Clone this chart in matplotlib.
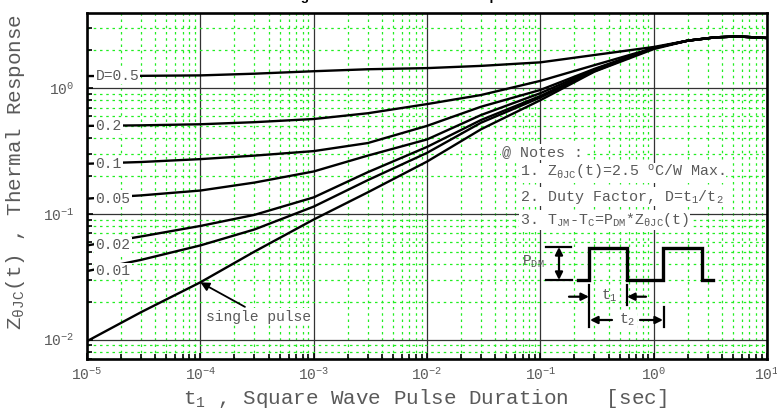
import numpy as np
import matplotlib
matplotlib.use("Agg")
import matplotlib.pyplot as plt
from matplotlib.ticker import LogLocator, LogFormatterMathtext, NullFormatter
import matplotlib.transforms as mtransforms

plt.rcParams['font.family'] = ['Liberation Mono', 'DejaVu Sans']
plt.rcParams['axes.unicode_minus'] = False

# pulse duration [sec]
t = [1e-5, 3e-5, 1e-4, 3e-4, 1e-3, 3e-3, 1e-2, 3e-2, 1e-1, 3e-1, 1, 2, 3.5, 5.5, 10]

# Z_thetaJC(t)
z_d050 = [1.245, 1.25, 1.26, 1.30, 1.36, 1.41, 1.44, 1.50, 1.60, 1.83, 2.12, 2.38, 2.53, 2.57, 2.50]
z_d020 = [0.50, 0.505, 0.515, 0.535, 0.567, 0.63, 0.745, 0.88, 1.14, 1.52, 2.08, 2.38, 2.53, 2.57, 2.50]
z_d010 = [0.25, 0.258, 0.272, 0.29, 0.315, 0.365, 0.50, 0.71, 0.965, 1.42, 2.08, 2.38, 2.53, 2.57, 2.50]
z_d005 = [0.132, 0.14, 0.153, 0.177, 0.217, 0.29, 0.39, 0.61, 0.91, 1.40, 2.08, 2.38, 2.53, 2.57, 2.50]
z_d002 = [0.056, 0.066, 0.08, 0.098, 0.135, 0.214, 0.34, 0.557, 0.864, 1.38, 2.08, 2.38, 2.53, 2.57, 2.50]
z_d001 = [0.035, 0.043, 0.056, 0.075, 0.114, 0.185, 0.305, 0.53, 0.84, 1.36, 2.08, 2.38, 2.53, 2.57, 2.50]
z_single = [0.0097, 0.0165, 0.0285, 0.05, 0.09, 0.148, 0.26, 0.47, 0.80, 1.35, 2.04, 2.38, 2.53, 2.57, 2.50]

curves = [z_d050, z_d020, z_d010, z_d005, z_d002, z_d001, z_single]
labels = ["D=0.5", "0.2", "0.1", "0.05", "0.02", "0.01"]

xticks = [1e-5, 1e-4, 1e-3, 1e-2, 1e-1, 1, 10]
yticks = [1e-2, 1e-1, 1]

gray = '#5a5a5a'

W, H = 777, 412
fig = plt.figure(figsize=(W / 100, H / 100), dpi=100)
L, R, T, B = 87, 767, 13, 359
ax = fig.add_axes([L / W, 1 - B / H, (R - L) / W, (B - T) / H])


def px(x, y):
    # pixel position -> axes fraction
    return ((x - L) / (R - L), (B - y) / (B - T))


for z in curves:
    ax.plot(t, z, color='black', lw=1.7, solid_capstyle='butt', zorder=2)

ax.set_xscale('log')
ax.set_yscale('log')
ax.set_xlim(1e-5, 10)
ax.set_ylim(0.007, 3.95)

ax.set_xticks(xticks)
ax.set_yticks(yticks)
ax.xaxis.set_major_formatter(LogFormatterMathtext())
ax.yaxis.set_major_formatter(LogFormatterMathtext())
ax.xaxis.set_minor_locator(LogLocator(base=10, subs=np.arange(2, 10)))
ax.yaxis.set_minor_locator(LogLocator(base=10, subs=np.arange(2, 10)))
ax.xaxis.set_minor_formatter(NullFormatter())
ax.yaxis.set_minor_formatter(NullFormatter())

ax.grid(which='major', color='#333333', lw=0.9, ls='-')
ax.grid(which='minor', color='#22ee22', lw=0.9, ls=(0, (2, 3)))

ax.tick_params(which='both', direction='in', top=False, right=False,
               width=1.2, colors='black', labelcolor=gray, labelsize=10.5)
ax.tick_params(which='major', length=4)
ax.tick_params(which='minor', length=3.5)
ax.tick_params(axis='y', pad=9)
ax.tick_params(axis='x', pad=5)
for s in ax.spines.values():
    s.set_linewidth(1.9)

ax.set_xlabel(r"t$_\mathregular{1}$ , Square Wave Pulse Duration   [sec]", fontsize=15, color=gray)
ax.xaxis.set_label_coords(0.497, -0.082)
ax.set_ylabel(r"Z$_\mathregular{\theta JC}$(t) , Thermal Response", fontsize=15, color=gray)
ax.yaxis.set_label_coords(-0.088, 0.54)

# D labels sitting on the curve starts
blend = mtransforms.blended_transform_factory(ax.transAxes, ax.transData)
for lab, z in zip(labels, curves):
    ax.text(0.0125, z[0], lab, transform=blend, ha='left', va='center',
            fontsize=10.5, color=gray, zorder=4,
            bbox=dict(boxstyle='square,pad=0.08', fc='white', ec='none'))

ax.annotate("single pulse", xy=(t[2], z_single[2]), xytext=(1.12e-4, 0.0152),
            fontsize=10.5, color=gray, ha='left', va='center', zorder=4,
            bbox=dict(boxstyle='square,pad=0.1', fc='white', ec='none'),
            arrowprops=dict(arrowstyle='-|>', color='black', lw=1.3,
                            mutation_scale=13, relpos=(0.42, 1.0),
                            shrinkA=2, shrinkB=0))

# notes
nb = dict(boxstyle='square,pad=0.05', fc='white', ec='none')
notes = [
    (502, 152, "@ Notes :"),
    (520, 173, r"1. Z$_\mathregular{\theta JC}$(t)=2.5 $\mathregular{^o}$C/W Max."),
    (520, 196.7, r"2. Duty Factor, D=t$_\mathregular{1}$/t$_\mathregular{2}$"),
    (520, 220, r"3. T$_\mathregular{JM}$-T$_\mathregular{C}$=P$_\mathregular{DM}$*Z$_\mathregular{\theta JC}$(t)"),
]
for x0, y0, s in notes:
    ax.text(*px(x0, y0), s, transform=ax.transAxes, ha='left', va='center',
            fontsize=10.8, color=gray, zorder=4, bbox=nb)

# square wave sketch
wave_x = [578, 589, 589, 627, 627, 663, 663, 702, 702, 713]
wave_y = [280, 280, 247.5, 247.5, 280, 280, 247.5, 247.5, 280, 280]
wx, wy = zip(*[px(a, b) for a, b in zip(wave_x, wave_y)])
ax.plot(wx, wy, color='black', lw=2.4, transform=ax.transAxes, zorder=5,
        solid_joinstyle='miter')


def seg(x0, y0, x1, y1, lw=1.6):
    a, b = px(x0, y0)
    c, d = px(x1, y1)
    ax.plot([a, c], [b, d], color='black', lw=lw, transform=ax.transAxes, zorder=5)


def arrow(x0, y0, x1, y1, style='-|>'):
    ax.annotate('', xy=px(x1, y1), xytext=px(x0, y0), xycoords='axes fraction',
                textcoords='axes fraction', zorder=5,
                arrowprops=dict(arrowstyle=style, color='black', lw=1.6,
                                mutation_scale=11, shrinkA=0, shrinkB=0))


seg(545.7, 246.7, 570.7, 246.7)
seg(545.7, 280, 571.7, 280)
arrow(559, 247, 559, 280, style='<|-|>')
seg(589.3, 285, 589.3, 327)
seg(626.7, 285, 626.7, 305)
seg(664.3, 306.7, 664.3, 326.7)
arrow(569, 296.7, 589, 296.7)
arrow(646, 296.7, 627, 296.7)
arrow(612, 320, 590, 320)
arrow(640, 320, 663, 320)

ax.text(*px(522, 262), r"P$_\mathregular{DM}$", transform=ax.transAxes, ha='left',
        va='center', fontsize=10.5, color=gray, zorder=5)
ax.text(*px(601, 296), r"t$_\mathregular{1}$", transform=ax.transAxes, ha='left',
        va='center', fontsize=10.5, color=gray, zorder=5)
ax.text(*px(619, 320), r"t$_\mathregular{2}$", transform=ax.transAxes, ha='left',
        va='center', fontsize=10.5, color=gray, zorder=5,
        bbox=dict(boxstyle='square,pad=0.1', fc='white', ec='none'))

# title sits above the canvas, only descenders show
fig.text(0.536, 1.0, "Figure 11. Transient Thermal Impedance", family='Liberation Sans',
         fontweight='bold', fontsize=9.6, ha='center', va='baseline')

fig.savefig("out.png", dpi=100)
